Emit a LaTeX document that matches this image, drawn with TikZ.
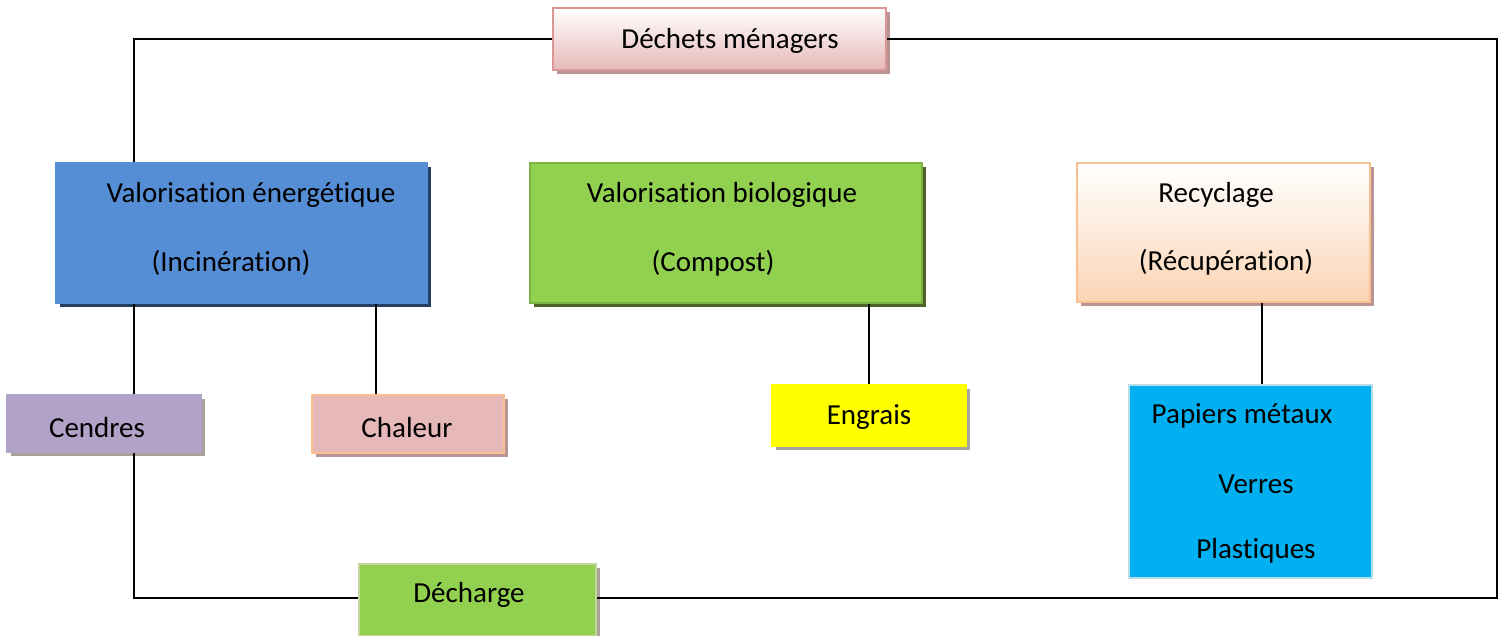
\documentclass[tikz,border=0pt]{standalone}
\usepackage{fontspec}
\setmainfont{Carlito}[Ligatures=NoCommon]
\usetikzlibrary{shadows}
\definecolor{blueF}{HTML}{558ED5}
\definecolor{blueS}{HTML}{243F60}
\definecolor{greenF}{HTML}{92D050}
\definecolor{greenS}{HTML}{4F6228}
\definecolor{lilac}{HTML}{B2A2C7}
\definecolor{rose}{HTML}{E6B9B8}
\definecolor{roseB}{HTML}{D99694}
\definecolor{peach}{HTML}{FBD4B4}
\definecolor{orangeB}{HTML}{FAC090}
\definecolor{cyanF}{HTML}{00B0F0}
\definecolor{cyanB}{HTML}{B7DEE8}
\definecolor{greenB}{HTML}{C3D69B}
\definecolor{yellowF}{HTML}{FFFF00}
\definecolor{hatch}{HTML}{A8A49C}
\definecolor{hatchR}{HTML}{B89494}
\begin{document}
\begin{tikzpicture}[x=1pt,y=-1pt,
  font=\fontsize{29}{35}\selectfont,
  conn/.style={line width=2pt, draw=black},
  boxbase/.style={rectangle, inner sep=0pt, line width=1.5pt},
  shad/.style={drop shadow={shadow xshift=4pt, shadow yshift=-4pt, fill=#1, opacity=1}},
  txt/.style={inner sep=0pt, anchor=center, yshift=-1.5pt}]
\useasboundingbox (0,0) rectangle (1503,635);

% boxes
\node[boxbase, draw=roseB, top color=white, bottom color=rose, shad=hatchR,
      minimum width=333pt, minimum height=62pt] (dm) at (719.5,39) {};
\node[boxbase, draw=blueF, fill=blueF, shad=blueS,
      minimum width=371pt, minimum height=140pt] (ve) at (241.5,233) {};
\node[boxbase, draw=greenF!85!black, fill=greenF, shad=greenS,
      minimum width=392pt, minimum height=140pt] (vb) at (726,233) {};
\node[boxbase, draw=orangeB, top color=white, bottom color=peach, shad=hatchR,
      minimum width=293pt, minimum height=139pt] (rc) at (1223.5,232.5) {};
\node[boxbase, draw=lilac, fill=lilac, shad=hatch,
      minimum width=194pt, minimum height=57pt] (cen) at (104,423.5) {};
\node[boxbase, draw=orangeB, fill=rose, shad=hatchR,
      minimum width=192pt, minimum height=58pt] (cha) at (408,424) {};
\node[boxbase, draw=yellowF, fill=yellowF, shad=hatch,
      minimum width=194pt, minimum height=61pt] (eng) at (869,415.5) {};
\node[boxbase, draw=cyanB, fill=cyanF,
      minimum width=243pt, minimum height=193pt] (pmv) at (1250.5,481.5) {};
\node[boxbase, draw=greenB, fill=greenF, shad=hatch,
      minimum width=237pt, minimum height=72pt] (dec) at (477.5,600) {};

% texts
\node[txt] (t1) at (730,39) {Déchets ménagers};
\node[txt] (t2) at (251,193) {Valorisation énergétique};
\node[txt] (t3) at (231,261) {(Incinération)};
\node[txt] (t4) at (722,193) {Valorisation biologique};
\node[txt] (t5) at (713,262) {(Compost)};
\node[txt] (t6) at (1216,193) {Recyclage};
\node[txt] (t7) at (1226,261) {(Récupération)};
\node[txt] (t8) at (97,426) {Cendres};
\node[txt] (t9) at (407,426) {Chaleur};
\node[txt] (t10) at (869,416) {Engrais};
\node[txt] (t11) at (1242,414) {Papiers métaux};
\node[txt] (t12) at (1256,483) {Verres};
\node[txt] (t13) at (1256,549) {Plastiques};
\node[txt] (t14) at (469,593) {Décharge};

% helper coordinates
\coordinate (cx) at (134,0);
\coordinate (hx) at (376,0);
\coordinate (rx) at (1262,0);
\coordinate (se) at (1497,598);

% connectors
\draw[conn] (dm.west) -| (cx |- ve.north);
\draw[conn] (dm.east) -| (se) -- (dec.east |- se);
\draw[conn] (dec.west |- se) -| (cx |- cen.south);
\draw[conn] (cx |- ve.south) -- (cx |- cen.north);
\draw[conn] (hx |- ve.south) -- (hx |- cha.north);
\draw[conn] (eng.north |- vb.south) -- (eng.north);
\draw[conn] (rx |- rc.south) -- (rx |- pmv.north);
\end{tikzpicture}
\end{document}
